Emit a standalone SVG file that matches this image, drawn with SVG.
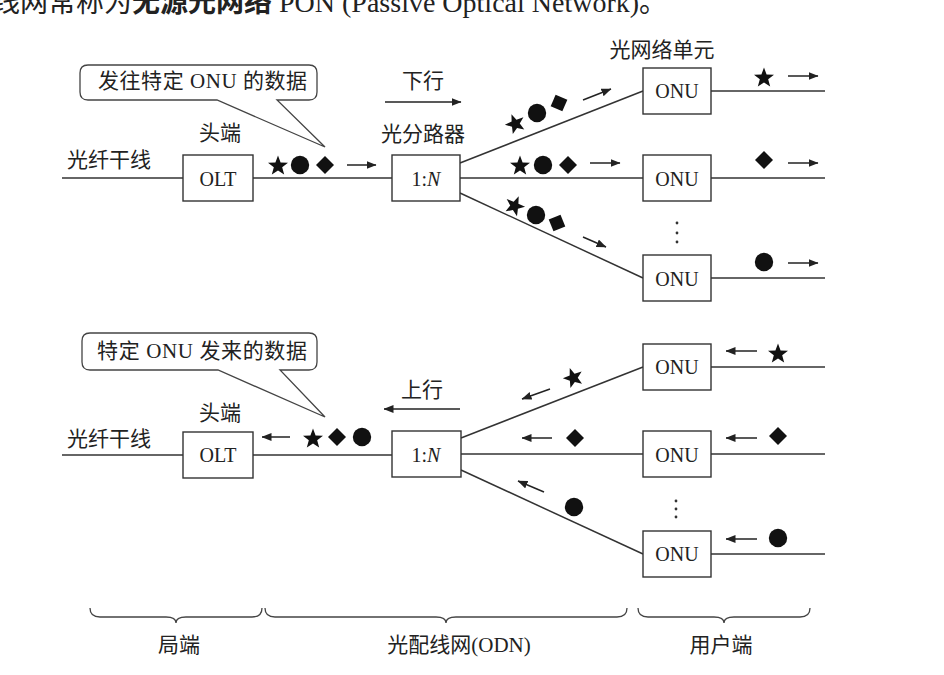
<svg xmlns="http://www.w3.org/2000/svg" width="944" height="675" viewBox="0 0 944 675">
<style>
text{font-family:"Liberation Serif","Noto Sans CJK SC",serif;fill:#222;}
.cjk{font-size:21px;}
.lbl{font-size:20px;text-anchor:middle;}
.box{fill:#fff;stroke:#333;stroke-width:1.4;}
.ln{fill:none;stroke:#333;stroke-width:1.5;}
.ar{fill:none;stroke:#222;stroke-width:1.5;marker-end:url(#ah);}
.br{fill:none;stroke:#444;stroke-width:1.3;}
.call{fill:#fff;stroke:#444;stroke-width:1.3;}
.sym{fill:#111;}
.dot{fill:#333;}
</style>
<defs>
<marker id="ah" markerWidth="10" markerHeight="8" refX="9.5" refY="4" orient="auto" markerUnits="userSpaceOnUse"><path d="M0,0 L10,4 L0,8 Z" fill="#222"/></marker>
<path id="star" d="M0,-9.5 L2.59,-2.56 L9.99,-2.24 L4.18,2.36 L6.17,9.49 L0,5.4 L-6.17,9.49 L-4.18,2.36 L-9.99,-2.24 L-2.59,-2.56 Z"/>
<path id="dia" d="M0,-9 L9,0 L0,9 L-9,0 Z"/>
<circle id="cir" r="9.2"/>
</defs>
<rect width="944" height="675" fill="#fff"/>

<text x="-8" y="12" style="font-size:28px">线网常称为<tspan font-weight="bold">无源光网络</tspan> PON (Passive Optical Network)。</text>

<g id="connectors">
<line class="ln" x1="62" y1="178" x2="183" y2="178"/>
<line class="ln" x1="253" y1="178" x2="392" y2="178"/>
<line class="ln" x1="460" y1="163" x2="643" y2="91"/>
<line class="ln" x1="460" y1="178" x2="643" y2="178"/>
<line class="ln" x1="460" y1="193" x2="643" y2="278"/>
<line class="ln" x1="711" y1="91" x2="825" y2="91"/>
<line class="ln" x1="711" y1="178" x2="825" y2="178"/>
<line class="ln" x1="711" y1="278" x2="825" y2="278"/>
<line class="ln" x1="62" y1="455" x2="183" y2="455"/>
<line class="ln" x1="253" y1="455" x2="392" y2="455"/>
<line class="ln" x1="461" y1="438" x2="643" y2="367"/>
<line class="ln" x1="461" y1="454" x2="643" y2="454"/>
<line class="ln" x1="461" y1="470" x2="643" y2="554"/>
<line class="ln" x1="711" y1="367" x2="825" y2="367"/>
<line class="ln" x1="711" y1="454" x2="825" y2="454"/>
<line class="ln" x1="711" y1="554" x2="825" y2="554"/>
</g>

<g id="arrows">
<line class="ar" x1="347" y1="165" x2="376" y2="165"/>
<line class="ar" x1="385" y1="102" x2="461" y2="102"/>
<line class="ar" x1="583" y1="100" x2="611" y2="89"/>
<line class="ar" x1="590" y1="163" x2="620" y2="163"/>
<line class="ar" x1="583" y1="237" x2="606" y2="247"/>
<line class="ar" x1="788" y1="76" x2="818" y2="76"/>
<line class="ar" x1="788" y1="163" x2="818" y2="163"/>
<line class="ar" x1="788" y1="263" x2="818" y2="263"/>

<line class="ar" x1="290" y1="437" x2="262" y2="437"/>
<line class="ar" x1="460" y1="409" x2="384" y2="409"/>
<line class="ar" x1="550" y1="389" x2="522" y2="399"/>
<line class="ar" x1="552" y1="438" x2="522" y2="438"/>
<line class="ar" x1="544" y1="492" x2="518" y2="481"/>
<line class="ar" x1="757" y1="351" x2="726" y2="351"/>
<line class="ar" x1="757" y1="438" x2="726" y2="438"/>
<line class="ar" x1="757" y1="539" x2="726" y2="539"/>
</g>

<g id="symbols" class="sym">
<use href="#star" x="278" y="165"/>
<use href="#cir" x="300" y="165"/>
<use href="#dia" x="325" y="165"/>
<use href="#star" transform="translate(515,123) rotate(-22)"/>
<use href="#cir" x="537" y="113"/>
<use href="#dia" transform="translate(559,103) rotate(-22)"/>
<use href="#star" x="520" y="165"/>
<use href="#cir" x="543" y="165"/>
<use href="#dia" x="568" y="165"/>
<use href="#star" transform="translate(515,205) rotate(23)"/>
<use href="#cir" x="536" y="215"/>
<use href="#dia" transform="translate(557,223) rotate(23)"/>
<use href="#star" x="764" y="77"/>
<use href="#dia" x="764" y="160"/>
<use href="#cir" x="764" y="262"/>

<use href="#star" x="313" y="438"/>
<use href="#dia" x="337" y="437"/>
<use href="#cir" x="362" y="437"/>
<use href="#star" transform="translate(573,377) rotate(-20)"/>
<use href="#dia" x="575" y="438"/>
<use href="#cir" x="574" y="507"/>
<use href="#star" x="778" y="353"/>
<use href="#dia" x="778" y="436"/>
<use href="#cir" x="778" y="538"/>
</g>

<g id="olt-top"><rect class="box" x="183" y="155" width="70" height="46"/><text class="lbl" x="218" y="186">OLT</text></g>
<g id="splitter-top"><rect class="box" x="392" y="155" width="68" height="46"/><text class="lbl" x="426" y="186">1:<tspan font-style="italic">N</tspan></text></g>
<g id="onu-t1"><rect class="box" x="643" y="68" width="68" height="46"/><text class="lbl" x="677" y="98">ONU</text></g>
<g id="onu-t2"><rect class="box" x="643" y="155" width="68" height="46"/><text class="lbl" x="677" y="186">ONU</text></g>
<g id="onu-t3"><rect class="box" x="643" y="255" width="68" height="46"/><text class="lbl" x="677" y="286">ONU</text></g>

<g id="olt-bottom"><rect class="box" x="183" y="432" width="70" height="46"/><text class="lbl" x="218" y="462">OLT</text></g>
<g id="splitter-bottom"><rect class="box" x="392" y="431" width="69" height="46"/><text class="lbl" x="426" y="462">1:<tspan font-style="italic">N</tspan></text></g>
<g id="onu-b1"><rect class="box" x="643" y="344" width="68" height="46"/><text class="lbl" x="677" y="374">ONU</text></g>
<g id="onu-b2"><rect class="box" x="643" y="431" width="68" height="46"/><text class="lbl" x="677" y="462">ONU</text></g>
<g id="onu-b3"><rect class="box" x="643" y="531" width="68" height="46"/><text class="lbl" x="677" y="561">ONU</text></g>

<g id="dots" class="dot">
<circle cx="677" cy="223" r="1.4"/><circle cx="677" cy="233" r="1.4"/><circle cx="677" cy="242" r="1.4"/>
<circle cx="676" cy="501" r="1.4"/><circle cx="676" cy="509" r="1.4"/><circle cx="676" cy="517" r="1.4"/>
</g>

<g id="callout-top">
<path class="call" d="M88,65 H309 Q317,65 317,73 V92 Q317,100 309,100 H277 L325,147 L217,100 H88 Q80,100 80,92 V73 Q80,65 88,65 Z"/>
<text class="cjk" x="98" y="88" textLength="209" lengthAdjust="spacing">发往特定 ONU 的数据</text>
</g>
<g id="callout-bottom">
<path class="call" d="M90,333 H309 Q317,333 317,341 V362 Q317,370 309,370 H280 L325,417 L218,370 H90 Q82,370 82,362 V341 Q82,333 90,333 Z"/>
<text class="cjk" x="97" y="358" textLength="210" lengthAdjust="spacing">特定 ONU 发来的数据</text>
</g>

<g id="labels" class="cjk">
<text x="662" y="57" text-anchor="middle">光网络单元</text>
<text x="423" y="88" text-anchor="middle">下行</text>
<text x="423" y="141" text-anchor="middle">光分路器</text>
<text x="220" y="140" text-anchor="middle">头端</text>
<text x="109" y="167" text-anchor="middle">光纤干线</text>
<text x="422" y="397" text-anchor="middle">上行</text>
<text x="220" y="420" text-anchor="middle">头端</text>
<text x="109" y="446" text-anchor="middle">光纤干线</text>
<text x="179" y="652" text-anchor="middle">局端</text>
<text x="459" y="652" text-anchor="middle">光配线网(ODN)</text>
<text x="721" y="652" text-anchor="middle">用户端</text>
</g>

<g id="braces">
<path class="br" d="M90,608 Q90,617 100,617 H166 Q176,617 176,623 Q176,617 186,617 H252 Q262,617 262,608"/>
<path class="br" d="M265,608 Q265,617 275,617 H436 Q446,617 446,623 Q446,617 456,617 H617 Q627,617 627,608"/>
<path class="br" d="M638,608 Q638,617 648,617 H714 Q724,617 724,623 Q724,617 734,617 H800 Q810,617 810,608"/>
</g>
</svg>
